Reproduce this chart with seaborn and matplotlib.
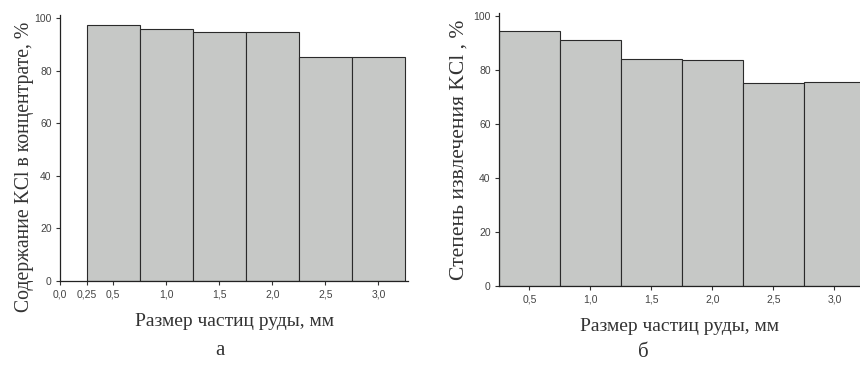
import numpy as np
import pandas as pd
import matplotlib
matplotlib.use('Agg')
import matplotlib.pyplot as plt
import seaborn as sns

# particle size classes (bin centres, mm) and measured values, %
sizes = [0.5, 1.0, 1.5, 2.0, 2.5, 3.0]
kcl_content = [97.5, 96.0, 94.5, 94.5, 85.0, 85.0]      # panel а
kcl_recovery = [94.5, 91.0, 84.0, 83.5, 75.0, 75.5]     # panel б

xticks_a = [0.0, 0.25, 0.5, 1.0, 1.5, 2.0, 2.5, 3.0]
xticks_b = [0.5, 1.0, 1.5, 2.0, 2.5, 3.0]
yticks = [0, 20, 40, 60, 80, 100]

sns.set_theme(style='ticks')
plt.rcParams['font.family'] = ['Liberation Sans', 'DejaVu Sans']

BAR = '#c6c8c6'
EDGE = '#2a2a2a'
SERIF = ['Liberation Serif', 'DejaVu Serif']


def comma(v):
    s = f'{v:.2f}'.rstrip('0')
    if s.endswith('.'):
        s += '0'
    return s.replace('.', ',')


def draw_panel(ax, values, xlim, xticks, ylabel, ysize, ycoords,
               letter, letter_x, letter_y):
    df = pd.DataFrame({'size': sizes, 'value': values})
    sns.barplot(data=df, x='size', y='value', native_scale=True, width=1.0,
                color=BAR, saturation=1, edgecolor=EDGE, linewidth=0.8, ax=ax)
    ax.set_xlim(*xlim)
    ax.set_ylim(0, 101)
    ax.set_xticks(xticks)
    ax.set_xticklabels([comma(t) for t in xticks])
    ax.set_yticks(yticks)
    ax.set_yticklabels([str(t) for t in yticks])
    ax.tick_params(axis='both', labelsize=7.5, length=3, width=0.8,
                   colors='#333333', labelcolor='#444444', pad=3)
    for s in ['top', 'right']:
        ax.spines[s].set_visible(False)
    for s in ['left', 'bottom']:
        ax.spines[s].set_color('#222222')
        ax.spines[s].set_linewidth(0.9)
    ax.set_xlabel('Размер частиц руды, мм', family=SERIF, fontsize=14,
                  color='#333333', labelpad=10)
    ax.set_ylabel(ylabel, family=SERIF, fontsize=ysize, color='#333333')
    ax.yaxis.set_label_coords(*ycoords)
    ax.text(letter_x, letter_y, letter, transform=ax.transAxes, family=SERIF,
            fontsize=15, color='#333333', ha='center', va='center')


fig = plt.figure(figsize=(8.6, 3.66), dpi=100)
ax_a = fig.add_axes([0.0698, 0.2322, 0.4047, 0.7186 * 1.01])
ax_b = fig.add_axes([0.5802, 0.2194, 0.4198, 0.737 * 1.01])

draw_panel(ax_a, kcl_content, (0.0, 3.28), xticks_a,
           'Содержание KCl в концентрате, %', 14.2, (-0.075, 0.43),
           'а', 0.46, -0.26)
draw_panel(ax_b, kcl_recovery, (0.25, 3.21), xticks_b,
           'Степень извлечения KCl , %', 15.5, (-0.085, 0.5),
           'б', 0.40, -0.245)

fig.savefig('out.png', dpi=100, facecolor='white')
